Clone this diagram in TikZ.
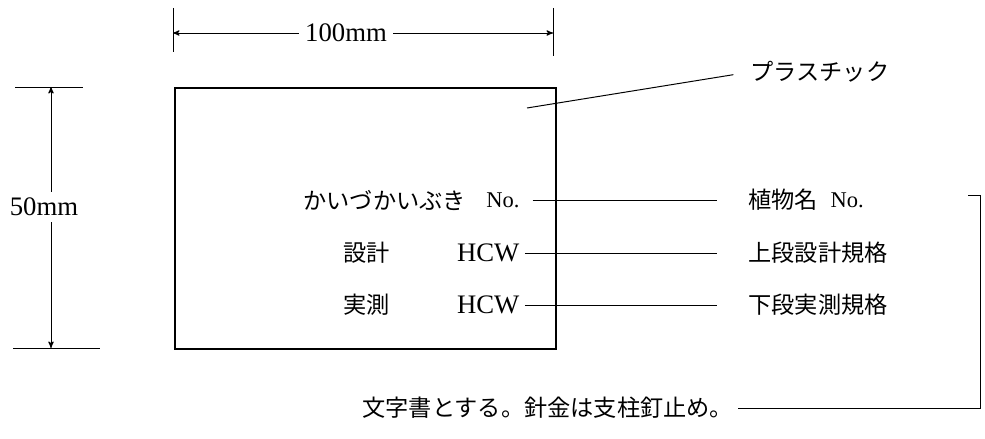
\documentclass[tikz,border=0pt]{standalone}
\usepackage{fontspec}
\setmainfont{Liberation Serif}
\newfontfamily\jfont{Noto Sans CJK JP}
\usetikzlibrary{arrows}

\begin{document}
\begin{tikzpicture}[x=0.025cm, y=-0.025cm, >=stealth', thick,
  jp/.style={font=\jfont\fontsize{16.5}{18}\selectfont, inner sep=0pt},
  lat/.style={font=\fontsize{19}{21}\selectfont, inner sep=0pt},
  dim/.style={line width=0.7pt}]
  \useasboundingbox (0,0) rectangle (985,439);
  % plate
  \node (plate) [draw, line width=1.6pt, minimum width=9.525cm, minimum height=6.525cm, anchor=north west] at (174,87) {};
  % width
  \coordinate (wT1) at (173,8);  \coordinate (wB1) at (173,52);
  \coordinate (wT2) at (553,8);  \coordinate (wB2) at (553,56);
  \coordinate (wL) at (173,33);  \coordinate (wR) at (553,33);
  \node (dimW) [lat, inner sep=4pt] at (346,33) {100mm};
  \draw[dim] (wT1) -- (wB1);
  \draw[dim] (wT2) -- (wB2);
  \path[dim, ->] (dimW) edge (wL)
                 (dimW) edge (wR);
  % height
  \coordinate (hL1) at (15,87);  \coordinate (hR1) at (83,87);
  \coordinate (hL2) at (13,348); \coordinate (hR2) at (100,348);
  \coordinate (hT) at (51,87);   \coordinate (hB) at (51,348);
  \node (dimH) [lat, inner sep=4pt] at (44,207) {50mm};
  \draw[dim] (hL1) -- (hR1);
  \draw[dim] (hL2) -- (hR2);
  \draw[dim, ->] (dimH.north -| hT) -- (hT);
  \draw[dim, ->] (dimH.south -| hB) -- (hB);
  % plate text
  \node (kai)  [jp, anchor=west] at (303,200) {かいづかいぶき};
  \node (no1)  [lat, anchor=east, font=\fontsize{16}{18}\selectfont] at (520,200) {No.};
  \node (sek)  [jp, anchor=west] at (343,253) {設計};
  \node (hcw1) [lat, anchor=east] at (520,253) {HCW};
  \node (jit)  [jp, anchor=west] at (343,305) {実測};
  \node (hcw2) [lat, anchor=east] at (520,305) {HCW};
  % labels
  \node (plas) [jp, anchor=west] at (750,72) {プラスチック};
  \node (lab1) [jp, anchor=west] at (748,200) {植物名};
  \node (no2)  [lat, anchor=west, font=\fontsize{16}{18}\selectfont] at (830,200) {No.};
  \node (lab2) [jp, anchor=west] at (748,253) {上段設計規格};
  \node (lab3) [jp, anchor=west] at (748,305) {下段実測規格};
  \node (note) [jp, anchor=west] at (362,408) {文字書とする。針金は支柱釘止め。};
  \coordinate (pIn) at (527,108);
  \path[dim] (pIn) edge[shorten >=12pt] (plas.west)
        (no1.east)  edge[shorten <=9pt, shorten >=22pt] (lab1.west)
        (hcw1.east) edge[shorten <=3.5pt, shorten >=22pt] (lab2.west)
        (hcw2.east) edge[shorten <=3.5pt, shorten >=22pt] (lab3.west);
  % bracket
  \coordinate (bT) at (968,195);
  \coordinate (bC1) at (980,195);
  \coordinate (bC2) at (980,408);
  \draw[dim, shorten >=3pt] (bT) -- (bC1) -- (bC2) -- (note.east);
\end{tikzpicture}
\end{document}
